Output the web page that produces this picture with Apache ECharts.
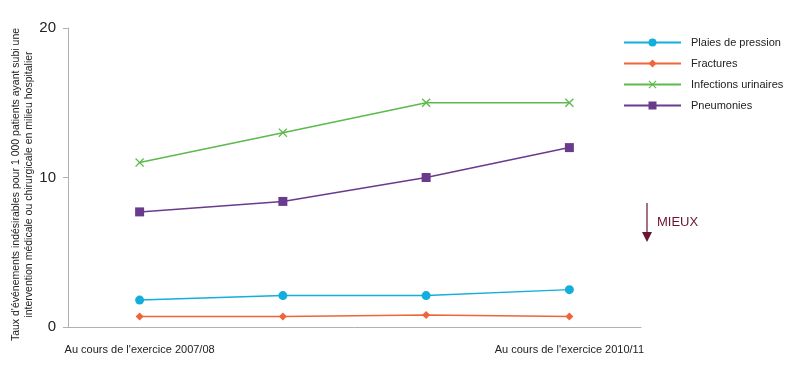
<!DOCTYPE html>
<html><head><meta charset="utf-8">
<script src="https://cdn.jsdelivr.net/npm/echarts@6/dist/echarts.min.js"></script>
<style>html,body{margin:0;padding:0;background:#fff}#c{width:800px;height:373px}</style>
</head><body><div id="c"></div>
<script>
var categories = ['2007/08', '2008/09', '2009/10', '2010/11'];
var firstLabel = "Au cours de l'exercice 2007/08";
var lastLabel = "Au cours de l'exercice 2010/11";
var plaies = [1.8, 2.1, 2.1, 2.5];
var fractures = [0.7, 0.7, 0.8, 0.7];
var infections = [11, 13, 15, 15];
var pneumonies = [7.7, 8.4, 10, 12];
var seriesNames = ['Plaies de pression', 'Fractures', 'Infections urinaires', 'Pneumonies'];
var yTicks = [0, 10, 20];
var yTitle = "Taux d'événements indésirables pour 1 000 patients ayant subi une\nintervention médicale ou chirurgicale en milieu hospitalier";

var FONT = '"Liberation Sans", Arial, sans-serif';
var xPath = 'path://M1,0L5,4L9,0L10,1L6,5L10,9L9,10L5,6L1,10L0,9L4,5L0,1Z';
var chart = echarts.init(document.getElementById('c'), null, {renderer: 'canvas'});
function mk(name, data, color, symbol, size) {
  return {name: name, type: 'line', data: data, symbol: symbol, symbolSize: size,
    showAllSymbol: true, lineStyle: {color: color, width: 1.5},
    itemStyle: {color: color}, emphasis: {disabled: true}, animation: false};
}
chart.setOption({
  animation: false,
  textStyle: {fontFamily: FONT},
  grid: {left: 68, right: 159, top: 28, bottom: 46, containLabel: false, outerBoundsMode: 'none'},
  legend: {
    orient: 'vertical', left: 623, top: 37, padding: 0, itemWidth: 57, itemHeight: 10, itemGap: 10,
    textStyle: {fontFamily: FONT, fontSize: 11, color: '#222', padding: [0, 0, 0, 5]},
    data: seriesNames
  },
  xAxis: {
    type: 'category', data: categories, boundaryGap: true,
    axisLine: {lineStyle: {color: '#b0b0b0'}}, axisTick: {show: false},
    axisLabel: {
      interval: 0, margin: 17, fontSize: 11, color: '#222', fontFamily: FONT,
      formatter: function (v, i) { return i === 0 ? firstLabel : (i === categories.length - 1 ? lastLabel : ''); }
    }
  },
  yAxis: {
    type: 'value', min: yTicks[0], max: yTicks[yTicks.length - 1], interval: 10,
    axisLine: {show: true, lineStyle: {color: '#b0b0b0'}},
    axisTick: {show: true, length: 5, lineStyle: {color: '#b0b0b0'}},
    splitLine: {show: false},
    axisLabel: {fontSize: 15, color: '#222', margin: 12, fontFamily: FONT},
    name: yTitle, nameLocation: 'middle', nameRotate: 90, nameGap: 32, nameMoveOverlap: false,
    nameTextStyle: {fontSize: 10.5, color: '#222', lineHeight: 13, fontFamily: FONT, padding: [0, 14, 0, 0]}
  },
  series: [
    mk(seriesNames[0], plaies, '#13aedb', 'circle', 9),
    mk(seriesNames[1], fractures, '#f0643a', 'diamond', 8),
    mk(seriesNames[2], infections, '#5cb94c', xPath, 9),
    mk(seriesNames[3], pneumonies, '#6a3b8c', 'rect', 9)
  ],
  graphic: [
    {type: 'line', shape: {x1: 647, y1: 203, x2: 647, y2: 233}, style: {stroke: '#6b1530', lineWidth: 1.2}},
    {type: 'polygon', shape: {points: [[642, 232], [652, 232], [647, 242]]}, style: {fill: '#6b1530'}},
    {type: 'text', left: 657, top: 216, style: {text: 'MIEUX', fill: '#6b1530', font: '13px ' + FONT}}
  ]
});
</script></body></html>
